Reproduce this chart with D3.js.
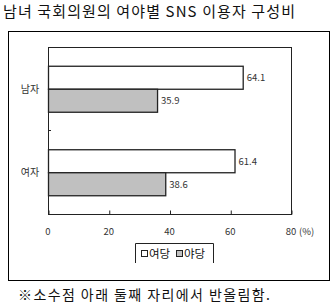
<!DOCTYPE html>
<html>
<head>
<meta charset="utf-8">
<script src="https://cdn.jsdelivr.net/npm/d3@7"></script>
<style>
  body { margin: 0; background: #fff; }
  text { font-family: "Noto Sans CJK KR", "DejaVu Sans", sans-serif; }
</style>
</head>
<body>
<svg width="333" height="306"></svg>
<script>
'use strict';

// data
var categories = ['남자', '여자'];
var series = ['여당', '야당'];
var ruling = [64.1, 61.4];
var opposition = [35.9, 38.6];
var ticks = [0, 20, 40, 60, 80];
var colors = ['#ffffff', '#c0c0c0'];

var svg = d3.select('svg');

// title
svg.append('text').attr('x', 3).attr('y', 17)
  .attr('font-size', 15).attr('fill', '#111')
  .attr('textLength', 292).attr('lengthAdjust', 'spacing')
  .text('남녀 국회의원의 여야별 SNS 이용자 구성비');

// outer frame
svg.append('rect').attr('x', 8.5).attr('y', 31.5).attr('width', 321).attr('height', 249)
  .attr('fill', 'none').attr('stroke', '#000').attr('stroke-width', 1);

var plotL = 48, plotR = 291, plotT = 47, plotB = 214;

var x = d3.scaleLinear().domain([0, 80]).range([plotL, plotR]);
var y = d3.scaleBand().domain(categories).range([plotT, plotB]);
var sub = d3.scaleBand().domain(series).range([0, 46]);

// plot frame
svg.append('rect').attr('x', plotL + 0.5).attr('y', plotT + 0.5)
  .attr('width', plotR - plotL).attr('height', plotB - plotT)
  .attr('fill', 'none').attr('stroke', '#222').attr('stroke-width', 1);

// bottom axis ticks (inward)
var xAxis = d3.axisBottom(x).tickValues(ticks).tickSize(-4).tickFormat('');
var gx = svg.append('g').attr('transform', 'translate(0.5,' + (plotB + 0.5) + ')').call(xAxis);
gx.select('.domain').remove();
gx.selectAll('line').attr('stroke', '#222');

// tick labels
svg.selectAll('.tl').data(ticks).enter().append('text')
  .attr('x', function (d) { return x(d); })
  .attr('y', 235).attr('text-anchor', 'middle')
  .attr('font-size', 9.5).attr('fill', '#333')
  .text(function (d) { return d; });
svg.append('text').attr('x', 299).attr('y', 235)
  .attr('font-size', 9.5).attr('fill', '#333').text('(%)');

// category separator tick
svg.append('line').attr('x1', plotL).attr('x2', plotL + 3)
  .attr('y1', y(categories[1])).attr('y2', y(categories[1]))
  .attr('stroke', '#222');

// category labels
svg.selectAll('.cl').data(categories).enter().append('text')
  .attr('x', 30).attr('y', function (d) { return y(d) + y.bandwidth() / 2 + 4; })
  .attr('text-anchor', 'middle').attr('font-size', 10).attr('fill', '#333')
  .text(function (d) { return d; });

// bars
var rows = [];
categories.forEach(function (c, i) {
  rows.push({ cat: c, s: series[0], v: ruling[i], color: colors[0] });
  rows.push({ cat: c, s: series[1], v: opposition[i], color: colors[1] });
});
var groupOffset = (y.bandwidth() - 46) / 2;

svg.selectAll('.bar').data(rows).enter().append('rect')
  .attr('x', x(0) + 0.5)
  .attr('y', function (d) { return y(d.cat) + groupOffset + sub(d.s) + 0.5; })
  .attr('width', function (d) { return x(d.v) - x(0); })
  .attr('height', sub.bandwidth())
  .attr('fill', function (d) { return d.color; })
  .attr('stroke', '#222').attr('stroke-width', 1.3);

svg.selectAll('.vl').data(rows).enter().append('text')
  .attr('x', function (d) { return x(d.v) + 4; })
  .attr('y', function (d) { return y(d.cat) + groupOffset + sub(d.s) + sub.bandwidth() / 2 + 4; })
  .attr('font-size', 9.5).attr('fill', '#333')
  .text(function (d) { return d.v.toFixed(1); });

// legend
svg.append('path').attr('d', 'M135.5,263V243.5H213.5V263')
  .attr('fill', 'none').attr('stroke', '#222');
var lg = svg.append('g');
var legX = [141, 176];
series.forEach(function (s, i) {
  lg.append('rect').attr('x', legX[i] + 0.5).attr('y', 250.5).attr('width', 6).attr('height', 6)
    .attr('fill', colors[i]).attr('stroke', '#222');
  lg.append('text').attr('x', legX[i] + 8).attr('y', 258)
    .attr('font-size', 11.5).attr('fill', '#111').text(s);
});

// footnote
svg.append('text').attr('x', 18).attr('y', 300)
  .attr('font-size', 14).attr('fill', '#111')
  .attr('textLength', 252).attr('lengthAdjust', 'spacing')
  .text('※소수점 아래 둘째 자리에서 반올림함.');
</script>
</body>
</html>
